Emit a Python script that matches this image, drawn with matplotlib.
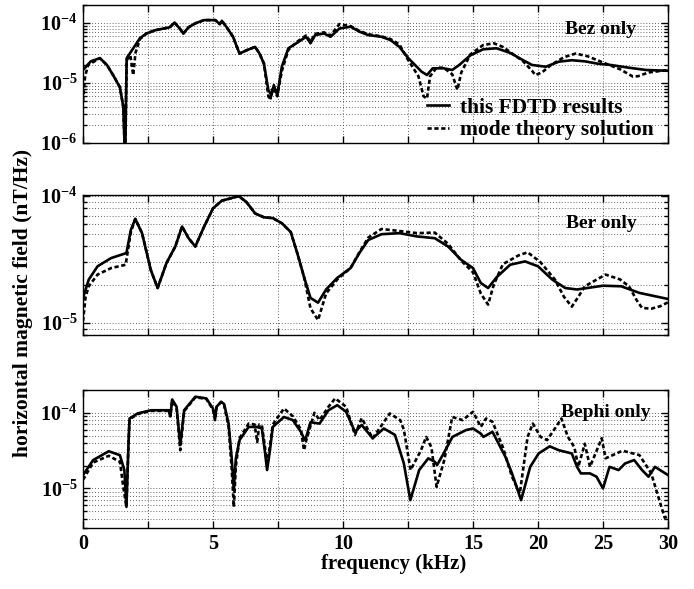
#!/usr/bin/env python3
"""Horizontal magnetic field spectra: FDTD vs mode theory, three source components."""
import matplotlib

matplotlib.use("Agg")
import matplotlib.pyplot as plt
import numpy as np
from matplotlib.ticker import FixedLocator, FuncFormatter, LogLocator, NullFormatter, NullLocator

plt.rcParams["font.family"] = ["Liberation Serif", "DejaVu Serif"]
plt.rcParams["font.weight"] = "bold"
plt.rcParams["mathtext.fontset"] = "custom"
plt.rcParams["mathtext.rm"] = "Liberation Serif:bold"
plt.rcParams["mathtext.it"] = "Liberation Serif:bold"
plt.rcParams["mathtext.bf"] = "Liberation Serif:bold"

# values are in units of 1e-5 nT/Hz, frequencies in kHz
UNIT = 1e-5

bez_fdtd_f = [0.0, 0.3, 0.65, 0.92, 1.16, 1.42, 1.55, 1.62, 1.68, 1.88, 2.19, 2.44, 2.78, 3.34,
              3.52, 3.72, 3.86, 4.06, 4.32, 4.66, 5.09, 5.26, 5.34, 5.51, 5.77, 6.02, 6.28, 6.62,
              6.79, 6.96, 7.13, 7.25, 7.34, 7.47, 7.65, 7.9, 8.24, 8.58, 8.75, 8.93, 9.27, 9.52,
              9.86, 10.29, 10.63, 10.97, 11.48, 11.83, 12.17, 12.51, 13.02, 13.23, 13.45, 13.87,
              14.2, 14.47, 14.9, 15.78, 16.8, 17.83, 18.86, 19.54, 20.6, 21.6, 22.6, 23.6, 24.6,
              25.6, 27.0, 28.3, 30.0]
bez_fdtd = [1.65, 2.3, 2.6, 2.0, 1.35, 0.85, 0.4, 0.05, 2.6, 3.5, 5.6, 6.7, 7.6, 8.5,
            10.2, 8.1, 6.7, 8.5, 9.9, 11.2, 11.2, 9.6, 10.9, 8.7, 5.9, 3.1, 3.5, 4.0,
            3.1, 2.1, 0.76, 0.63, 0.92, 0.63, 1.9, 3.8, 4.7, 5.9, 4.6, 6.3, 6.7, 5.9,
            8.1, 8.7, 7.2, 6.3, 5.9, 5.2, 4.0, 2.6, 1.55, 1.36, 1.76, 1.76,
            1.65, 2.0, 2.9, 3.65, 3.8, 3.2, 2.4, 2.0, 1.87, 2.27, 2.4, 2.3, 2.1,
            2.0, 1.8, 1.65, 1.6]

bez_mode_f = [0.0, 0.08, 0.2, 0.65, 0.92, 1.16, 1.42, 1.55, 1.62, 1.68, 1.82, 1.93, 2.02, 2.19,
              2.44, 2.78, 3.34, 3.52, 3.72, 3.86, 4.06, 4.32, 4.66, 5.09, 5.26, 5.34, 5.51, 5.77,
              6.02, 6.28, 6.62, 6.79, 6.96, 7.13, 7.2, 7.3, 7.47, 7.65, 7.9, 8.24, 8.58, 8.75,
              8.93, 9.27, 9.52, 9.86, 10.29, 10.63, 10.97, 11.48, 11.83, 12.17, 12.51, 12.9,
              13.1, 13.23, 13.35, 13.6, 13.87, 14.2, 14.4, 14.55, 14.9, 15.78, 16.6, 17.3,
              18.86, 19.54, 19.8, 20.3, 21.0, 22.0, 22.9, 23.8, 25.0, 26.3, 27.3, 27.7, 28.5, 30.0]
bez_mode = [0.5, 1.3, 2.0, 2.6, 2.0, 1.35, 0.85, 0.4, 0.05, 2.4, 2.9, 1.35, 3.2, 5.4,
            6.7, 7.6, 8.5, 10.2, 8.1, 6.7, 8.5, 9.9, 11.2, 11.2, 9.6, 10.9, 8.7, 5.9,
            3.1, 3.5, 4.0, 3.1, 2.1, 0.6, 0.52, 0.85, 0.6, 1.6, 3.6, 4.9, 6.2, 4.9,
            6.6, 7.0, 6.2, 9.6, 8.9, 7.4, 6.5, 6.0, 5.4, 4.4, 2.4, 1.3,
            0.6, 0.55, 1.3, 1.8, 1.8, 1.4, 0.77, 1.5, 3.0, 4.3, 4.6, 4.0,
            2.3, 1.6, 1.36, 1.5, 2.0, 2.7, 3.1, 2.8, 2.2, 1.7, 1.28, 1.3, 1.5, 1.65]

ber_fdtd_f = [0.0, 0.22, 0.56, 1.08, 1.67, 1.84, 2.01, 2.27, 2.61, 2.87, 3.21, 3.55, 3.81, 4.06,
              4.32, 4.66, 5.0, 5.34, 5.68, 5.99, 6.28, 6.62, 6.96, 7.3, 7.65, 7.99, 8.24, 8.5,
              8.75, 9.04, 9.35, 9.78, 10.29, 10.63, 10.97, 11.48, 12.17, 12.85, 13.53, 14.04,
              14.54, 15.0, 15.6, 16.16, 16.84, 17.86, 19.0, 20.0, 21.1, 22.1, 23.0, 25.0, 26.4,
              27.8, 30.0]
ber_fdtd = [1.57, 2.19, 2.79, 3.24, 3.55, 5.4, 6.6, 5.1, 2.6, 1.88, 2.96, 4.0, 5.75, 4.65,
            4.0, 5.75, 8.0, 9.2, 9.6, 10.0, 9.0, 7.3, 6.8, 6.7, 6.1, 5.2, 3.55, 2.3,
            1.57, 1.44, 1.83, 2.26, 2.7, 3.55, 4.5, 5.0, 5.1, 4.8, 4.65, 4.0,
            3.14, 2.7, 2.06, 1.88, 2.3, 2.87, 3.05, 2.79, 2.19, 1.88, 1.83, 1.96, 1.94,
            1.72, 1.54]

ber_mode_f = [0.0, 0.1, 0.22, 0.56, 1.08, 1.64, 1.84, 2.01, 2.27, 2.61, 2.87, 3.21, 3.55, 3.81,
              4.06, 4.32, 4.66, 5.0, 5.34, 5.68, 5.99, 6.28, 6.62, 6.96, 7.3, 7.65, 7.99, 8.24,
              8.5, 8.75, 9.04, 9.35, 9.78, 10.29, 10.63, 10.97, 11.48, 12.17, 12.85, 13.53,
              14.04, 14.54, 15.0, 15.6, 16.16, 16.6, 17.3, 18.5, 19.2, 20.2, 21.3, 22.0, 22.6,
              23.1, 23.6, 25.2, 26.3, 27.0, 27.6, 28.0, 28.7, 29.4, 30.0]
ber_mode = [1.03, 1.6, 1.94, 2.4, 2.7, 2.87, 5.2, 6.6, 5.1, 2.6, 1.88, 2.96, 4.0, 5.75,
            4.65, 4.0, 5.75, 8.0, 9.2, 9.6, 10.0, 9.0, 7.3, 6.8, 6.7, 6.1, 5.2, 3.55,
            2.3, 1.3, 1.05, 1.7, 2.2, 2.7, 3.6, 4.7, 5.5, 5.3, 5.1, 5.15,
            4.2, 3.1, 2.5, 1.7, 1.39, 2.0, 2.9, 3.4, 3.6, 3.0, 2.19, 1.6, 1.34,
            1.6, 1.94, 2.4, 2.2, 1.94, 1.5, 1.31, 1.29, 1.35, 1.45]

bephi_fdtd_f = [0.0, 0.39, 0.99, 1.42, 1.59, 1.67, 1.75, 1.79, 2.1, 2.61, 3.3, 3.36, 3.43, 3.6,
                3.74, 3.89, 4.32, 4.74, 5.0, 5.08, 5.14, 5.31, 5.43, 5.6, 5.72, 5.8, 5.88, 6.02,
                6.37, 6.7, 6.88, 7.0, 7.08, 7.18, 7.3, 7.73, 8.07, 8.38, 8.5, 8.55, 8.75, 9.1,
                9.44, 9.78, 10.12, 10.46, 10.72, 11.14, 11.57, 12.0, 12.34, 12.59, 12.93, 13.28,
                13.53, 13.62, 13.87, 14.21, 14.73, 15.0, 15.6, 15.8, 16.5, 17.5, 18.0, 18.7,
                19.4, 20.05, 20.9, 21.6, 22.6, 23.0, 23.3, 24.0, 24.5, 25.0, 25.5, 26.2, 26.7,
                27.4, 28.0, 28.5, 29.0, 30.0]
bephi_fdtd = [1.5, 2.37, 3.1, 2.75, 1.75, 0.57, 4.0, 8.4, 9.8, 10.8, 10.8, 9.0, 15.0, 12.0,
              3.74, 10.8, 16.3, 15.5, 11.4, 8.4, 12.0, 14.0, 13.0, 7.2, 2.5, 0.95, 2.5, 4.35,
              6.5, 6.5, 6.2, 3.0, 1.75, 3.0, 6.5, 8.8, 8.0, 5.6, 4.6, 4.35, 7.5, 7.2,
              10.8, 12.6, 10.3, 5.6, 6.9, 4.6, 6.2, 5.1, 2.14, 0.7, 1.75, 2.5,
              2.25, 2.04, 2.9, 4.8, 5.9, 6.2, 5.3, 4.8, 5.6, 2.6, 1.58, 0.7,
              1.93, 2.9, 3.6, 3.2, 2.9, 1.93, 1.58, 1.58, 1.43, 1.0, 1.93, 1.75, 2.14,
              2.37, 1.75, 1.43, 1.93, 1.5]

bephi_mode_f = [0.0, 0.39, 0.99, 1.42, 1.55, 1.67, 1.75, 1.79, 2.1, 2.61, 3.3, 3.36, 3.43, 3.6,
                3.74, 3.89, 4.32, 4.74, 5.0, 5.08, 5.14, 5.31, 5.43, 5.6, 5.72, 5.8, 5.88, 6.02,
                6.37, 6.6, 6.7, 6.78, 6.88, 7.0, 7.08, 7.18, 7.3, 7.73, 8.07, 8.38, 8.5, 8.6,
                8.9, 9.1, 9.44, 9.7, 10.12, 10.46, 10.72, 11.14, 11.8, 12.2, 12.34, 12.6, 13.0,
                13.2, 13.4, 13.6, 13.9, 14.2, 14.6, 15.0, 15.6, 16.0, 16.5, 17.3, 18.0, 18.6,
                19.2, 19.6, 20.2, 20.7, 21.3, 21.8, 22.3, 22.8, 23.1, 23.6, 24.0, 24.9, 25.2,
                26.5, 27.8, 28.7, 29.4, 29.75, 30.0]
bephi_mode = [1.3, 2.2, 2.7, 2.25, 1.05, 0.57, 4.0, 8.2, 9.6, 10.6, 10.6, 9.0, 14.5, 11.5,
              3.2, 10.5, 16.0, 15.3, 11.0, 8.0, 12.0, 13.8, 12.5, 6.5, 1.8, 0.57, 2.0, 4.6,
              7.2, 7.0, 4.1, 7.0, 6.8, 3.5, 2.0, 3.5, 7.0, 11.4, 9.0, 6.0, 3.2, 4.5,
              10.0, 8.0, 12.0, 15.5, 12.0, 5.1, 8.5, 4.6, 9.8, 8.0, 6.0, 1.75, 3.2,
              4.8, 3.5, 1.05, 2.4, 8.8, 8.0, 10.3, 6.5, 8.4, 7.6, 3.5, 1.43, 0.86,
              4.8, 7.2, 4.8, 4.35, 6.2, 8.4, 4.8, 3.5, 1.93, 3.9, 1.93, 4.6, 2.5,
              3.15, 2.76, 1.6, 0.64, 0.41, 0.43]

PANEL_NAMES = ["Bez only", "Ber only", "Bephi only"]
YLIMS = [(1e-6, 2e-4), (8e-6, 1.02e-4), (3e-6, 2e-4)]
YTICKS = [[1e-6, 1e-5, 1e-4], [1e-5, 1e-4], [1e-5, 1e-4]]

XTICKS = [0, 2.5, 5, 7.5, 10, 12.5, 15, 20, 25, 30]
XTICK_LABELS = ["0", "", "5", "", "10", "", "15", "20", "25", "30"]

LEGEND_LABELS = ["this FDTD results", "mode theory solution"]

# frequency axis is stretched below 15 kHz (2.5 kHz per grid cell) and 5 kHz per cell above
def freq_fwd(f):
    f = np.asarray(f, dtype=float)
    return np.where(f <= 15, f / 2.5, 6 + (f - 15) / 5)


def freq_inv(u):
    u = np.asarray(u, dtype=float)
    return np.where(u <= 6, u * 2.5, 15 + (u - 6) * 5)


def exp_label(v, pos):
    return rf"$10^{{{int(round(np.log10(v)))}}}$"


def style_axes(ax, ylim, yticks, show_xlabels):
    ax.set_xscale("function", functions=(freq_fwd, freq_inv))
    ax.set_yscale("log")
    ax.set_xlim(0, 30)
    ax.set_ylim(*ylim)

    ax.xaxis.set_major_locator(FixedLocator(XTICKS))
    ax.xaxis.set_minor_locator(NullLocator())
    if show_xlabels:
        ax.set_xticklabels(XTICK_LABELS)
    else:
        ax.set_xticklabels([])

    ax.yaxis.set_major_locator(FixedLocator(yticks))
    ax.yaxis.set_minor_locator(LogLocator(base=10, subs=np.arange(2, 10), numticks=20))
    ax.yaxis.set_major_formatter(FuncFormatter(exp_label))
    ax.yaxis.set_minor_formatter(NullFormatter())

    ax.tick_params(which="both", direction="in", top=True, right=True, width=1.0)
    ax.tick_params(which="major", length=5, labelsize=14.5, pad=4)
    ax.tick_params(which="minor", length=3)

    grid_kw = dict(color="0.2", lw=0.6, ls=(0, (1, 2.5)))
    ax.grid(True, which="major", axis="x", **grid_kw)
    ax.grid(True, which="both", axis="y", **grid_kw)
    for s in ax.spines.values():
        s.set_linewidth(1.0)


def main():
    fig = plt.figure(figsize=(6.94, 5.89), dpi=100)
    left, width = 83 / 694, 585 / 694
    rects = [
        (left, 1 - 143 / 589, width, 138 / 589),
        (left, 1 - 335 / 589, width, 140 / 589),
        (left, 1 - 528 / 589, width, 138 / 589),
    ]
    series = [
        (bez_fdtd_f, bez_fdtd, bez_mode_f, bez_mode),
        (ber_fdtd_f, ber_fdtd, ber_mode_f, ber_mode),
        (bephi_fdtd_f, bephi_fdtd, bephi_mode_f, bephi_mode),
    ]
    text_pos = [(0.945, 0.82), (0.946, 0.80), (0.97, 0.84)]

    for i, rect in enumerate(rects):
        ax = fig.add_axes(rect)
        ff, fv, mf, mv = series[i]
        ax.plot(ff, np.array(fv) * UNIT, color="black", lw=1.9,
                label=LEGEND_LABELS[0], zorder=4)
        ax.plot(mf, np.array(mv) * UNIT, color="black", lw=1.9, ls=(0, (1.6, 1.0)),
                label=LEGEND_LABELS[1], zorder=3)
        style_axes(ax, YLIMS[i], YTICKS[i], show_xlabels=(i == 2))
        tx, ty = text_pos[i]
        ax.text(tx, ty, PANEL_NAMES[i], transform=ax.transAxes, ha="right", va="center",
                fontsize=14, fontweight="bold", zorder=6)
        if i == 0:
            ax.legend(loc="lower right", bbox_to_anchor=(0.975, 0.02), frameon=False,
                      fontsize=15.5, handlelength=1.0, handletextpad=0.5,
                      labelspacing=0.1, borderpad=0, borderaxespad=0)

    fig.text(23 / 694, 1 - 303 / 589, "horizontal magnetic field (nT/Hz)", rotation=90,
             ha="center", va="center", fontsize=15.5, fontweight="bold")
    fig.text(394 / 694, 1 - 564 / 589, "frequency (kHz)", ha="center", va="center",
             fontsize=15, fontweight="bold")

    fig.savefig("out.png", dpi=100)
    plt.close(fig)


if __name__ == "__main__":
    main()
